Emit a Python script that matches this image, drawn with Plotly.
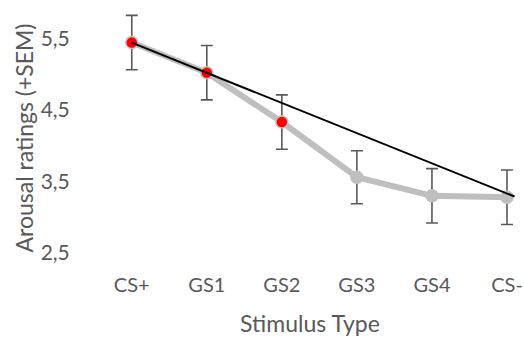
import plotly.graph_objects as go

categories = ["CS+", "GS1", "GS2", "GS3", "GS4", "CS-"]
arousal_mean = [5.44, 5.02, 4.33, 3.56, 3.30, 3.28]
arousal_sem = [0.38, 0.38, 0.38, 0.37, 0.38, 0.38]
marker_colors = ["#FF0000", "#FF0000", "#FF0000", "#BFBFBF", "#BFBFBF", "#BFBFBF"]
trend_x = [0, 5.1]
trend_y = [5.44, 3.29]
y_ticks = [2.5, 3.5, 4.5, 5.5]
y_ticklabels = ["2,5", "3,5", "4,5", "5,5"]

xpos = list(range(len(categories)))
FONT = "Lato"
TXT = "#595959"

fig = go.Figure()
fig.add_trace(go.Scatter(
    x=xpos, y=arousal_mean, mode="lines+markers",
    line=dict(color="#BFBFBF", width=6),
    marker=dict(size=12, color=marker_colors, line=dict(color="#BFBFBF", width=1.5)),
    error_y=dict(type="data", array=arousal_sem, visible=True, color="#595959", thickness=1.6, width=6),
    showlegend=False, hoverinfo="skip",
))
fig.add_trace(go.Scatter(
    x=trend_x, y=trend_y, mode="lines",
    line=dict(color="#000000", width=2),
    showlegend=False, hoverinfo="skip",
))

fig.update_layout(
    width=524, height=340,
    margin=dict(l=98, r=2, t=5, b=69),
    paper_bgcolor="white", plot_bgcolor="white",
    font=dict(family=FONT, color=TXT, size=18),
)
fig.update_xaxes(
    range=[-0.45, 5.2], tickvals=xpos, ticktext=categories,
    showgrid=False, zeroline=False, showline=False, ticks="",
    tickfont=dict(size=20, color=TXT, family=FONT),
    title=dict(text="Stimulus Type", font=dict(size=23, color=TXT, family=FONT), standoff=20),
)
fig.update_yaxes(
    range=[2.25, 5.965], tickvals=y_ticks, ticktext=y_ticklabels,
    showgrid=False, zeroline=False, showline=False,
    ticks="outside", ticklen=23, tickcolor="rgba(0,0,0,0)",
    tickfont=dict(size=21, color=TXT, family=FONT),
    title=dict(text="Arousal ratings (+SEM)", font=dict(size=23, color=TXT, family=FONT), standoff=0),
)

fig.write_html("out.html")
